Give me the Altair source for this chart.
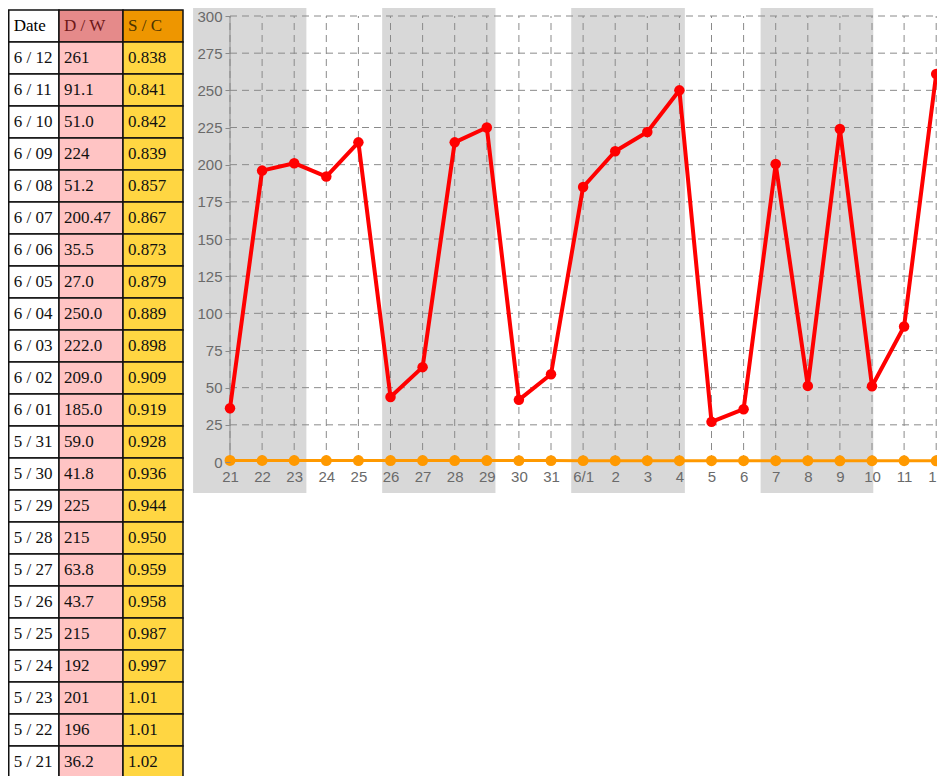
import json
import altair as alt
import pandas as pd

# ---------------- data (chronological 5/21 -> 6/12) ----------------
dates = ["5/21", "5/22", "5/23", "5/24", "5/25", "5/26", "5/27", "5/28", "5/29", "5/30", "5/31",
         "6/01", "6/02", "6/03", "6/04", "6/05", "6/06", "6/07", "6/08", "6/09", "6/10", "6/11", "6/12"]
x_labels = ["21", "22", "23", "24", "25", "26", "27", "28", "29", "30", "31",
            "6/1", "2", "3", "4", "5", "6", "7", "8", "9", "10", "11", "12"]
dw_text = ["36.2", "196", "201", "192", "215", "43.7", "63.8", "215", "225", "41.8", "59.0",
           "185.0", "209.0", "222.0", "250.0", "27.0", "35.5", "200.47", "51.2", "224", "51.0", "91.1", "261"]
sc_text = ["1.02", "1.01", "1.01", "0.997", "0.987", "0.958", "0.959", "0.950", "0.944", "0.936", "0.928",
           "0.919", "0.909", "0.898", "0.889", "0.879", "0.873", "0.867", "0.857", "0.839", "0.842", "0.841", "0.838"]
headers = ["Date", "D / W", "S / C"]
band_start = [-1.15, 4.74, 10.63, 16.53]
band_end = [2.38, 8.27, 14.17, 20.04]
y_ticks = [0, 25, 50, 75, 100, 125, 150, 175, 200, 225, 250, 275, 300]

# ---------------- layout / style constants ----------------
PAD_L, PAD_T = 222, 8
PLOT_W, PLOT_H = 707, 446
TOTAL_H = 768
SPACING_PX = 32.1
X_MAX = PLOT_W / SPACING_PX
PX_PER_UNIT = PLOT_H / 300
BAND_LO = -31 / PX_PER_UNIT
BAND_HI = 300 + PAD_T / PX_PER_UNIT

COL_EDGES = [0.75, 51, 115, 175]      # svg px from the left edge
TABLE_TOP = 2                         # svg px from the top edge
ROW_H = 32
HEAD_FILL = ["#ffffff", "#e58a8a", "#ee9600"]
HEAD_TEXT = ["#000000", "#6e1818", "#4a3300"]
CELL_FILL = ["#ffffff", "#ffc4c4", "#ffd642"]
GRID = "#8a8a8a"
LABEL = "#6a6a6a"

# ---------------- table (drawn in pixel-unit scales) ----------------
rows = []
n = len(dates)
table_rows = [headers] + [
    [dates[k].replace("/", " / "), dw_text[k], sc_text[k]] for k in range(n - 1, -1, -1)
]
for r, vals in enumerate(table_rows):
    for c, v in enumerate(vals):
        top = TABLE_TOP - PAD_T + r * ROW_H
        rows.append({
            "tx0": COL_EDGES[c] - PAD_L,
            "tx1": COL_EDGES[c + 1] - PAD_L,
            "ty0": top,
            "ty1": top + ROW_H,
            "tyc": top + ROW_H / 2,
            "txt": v,
            "tfill": HEAD_FILL[c] if r == 0 else CELL_FILL[c],
            "tcol": HEAD_TEXT[c] if r == 0 else "#111111",
        })
tdf = pd.DataFrame(rows)

txs = alt.Scale(domain=[0, PLOT_W], nice=False, zero=False)
tys = alt.Scale(domain=[PLOT_H, 0], nice=False, zero=False)

cells = alt.Chart(tdf).mark_rect(stroke="#111111", strokeWidth=1.5).encode(
    x=alt.X("tx0:Q", scale=txs, axis=None), x2="tx1:Q",
    y=alt.Y("ty0:Q", scale=tys, axis=None), y2="ty1:Q",
    fill=alt.Fill("tfill:N", scale=None),
)
texts = alt.Chart(tdf).mark_text(
    align="left", baseline="middle", dx=5, font="Liberation Serif", fontSize=17
).encode(
    x=alt.X("tx0:Q", scale=txs, axis=None),
    y=alt.Y("tyc:Q", scale=tys, axis=None),
    text="txt:N", color=alt.Color("tcol:N", scale=None),
)
table = alt.layer(cells, texts)

# ---------------- line chart ----------------
df = pd.DataFrame({
    "i": list(range(n)),
    "lab": x_labels,
    "dw": [float(v) for v in dw_text],
    "sc": [float(v) for v in sc_text],
    "g0": 0.0,
    "g1": 300.0,
})
bands = pd.DataFrame({"bs": band_start, "be": band_end, "lo": BAND_LO, "hi": BAND_HI})
ygrid = pd.DataFrame({"yt": y_ticks[1:], "gx0": 0.0, "gx1": X_MAX})

xs = alt.Scale(domain=[0, X_MAX], nice=False, zero=False)
ys = alt.Scale(domain=[0, 300], nice=False, zero=False)

x_axis = alt.Axis(
    values=list(range(n)), labelExpr=json.dumps(x_labels) + "[datum.value]",
    orient="bottom", grid=False, domain=False, ticks=False, tickSize=0, labelPadding=7,
    labelFontSize=15, labelColor=LABEL, labelFont="Liberation Sans", title=None, zindex=1,
    labelFlush=False, labelOverlap=False,
)
y_axis = alt.Axis(
    values=y_ticks, orient="left", grid=False, domain=False, ticks=True, tickSize=5,
    tickColor=GRID, labelPadding=3, labelFontSize=15, labelColor=LABEL,
    labelFont="Liberation Sans", title=None, zindex=1, labelFlush=False, labelOverlap=False,
)


def X(field):
    return alt.X(field, scale=xs, axis=x_axis)


def Y(field):
    return alt.Y(field, scale=ys, axis=y_axis)


band_layer = alt.Chart(bands).mark_rect(color="#d8d8d8").encode(
    x=X("bs:Q"), x2="be:Q", y=Y("lo:Q"), y2="hi:Q",
)
hgrid = alt.Chart(ygrid).mark_rule(color=GRID, strokeWidth=1, strokeDash=[7, 5]).encode(
    y=Y("yt:Q"), x=X("gx0:Q"), x2="gx1:Q",
)
vgrid = alt.Chart(df).mark_rule(color=GRID, strokeWidth=1, strokeDash=[7, 5]).encode(
    x=X("i:Q"), y=Y("g0:Q"), y2="g1:Q",
)
ydomain = alt.Chart(df.head(1)).mark_rule(color=GRID, strokeWidth=1).encode(
    x=X("i:Q"), y=Y("g0:Q"), y2="g1:Q",
)
red_line = alt.Chart(df).mark_line(
    color="#ff0000", strokeWidth=4, strokeJoin="round", strokeCap="round"
).encode(x=X("i:Q"), y=Y("dw:Q"))
red_pts = alt.Chart(df).mark_circle(color="#ff0000", size=110, opacity=1).encode(
    x=X("i:Q"), y=Y("dw:Q")
)
org_line = alt.Chart(df).mark_line(color="#ff9900", strokeWidth=3).encode(
    x=X("i:Q"), y=Y("sc:Q")
)
org_pts = alt.Chart(df).mark_circle(color="#ff9900", size=120, opacity=1).encode(
    x=X("i:Q"), y=Y("sc:Q")
)

chart = alt.layer(band_layer, hgrid, vgrid, ydomain, red_line, red_pts, org_line, org_pts)

full = alt.layer(table, chart).resolve_scale(
    x="independent", y="independent"
).properties(
    width=PLOT_W,
    height=PLOT_H,
    autosize=alt.AutoSizeParams(type="none"),
    padding={"left": PAD_L, "top": PAD_T, "right": 0, "bottom": TOTAL_H - PAD_T - PLOT_H},
    background="white",
).configure_view(strokeWidth=0)
full.save("out.html", embed_options={"renderer": "svg", "actions": False})
